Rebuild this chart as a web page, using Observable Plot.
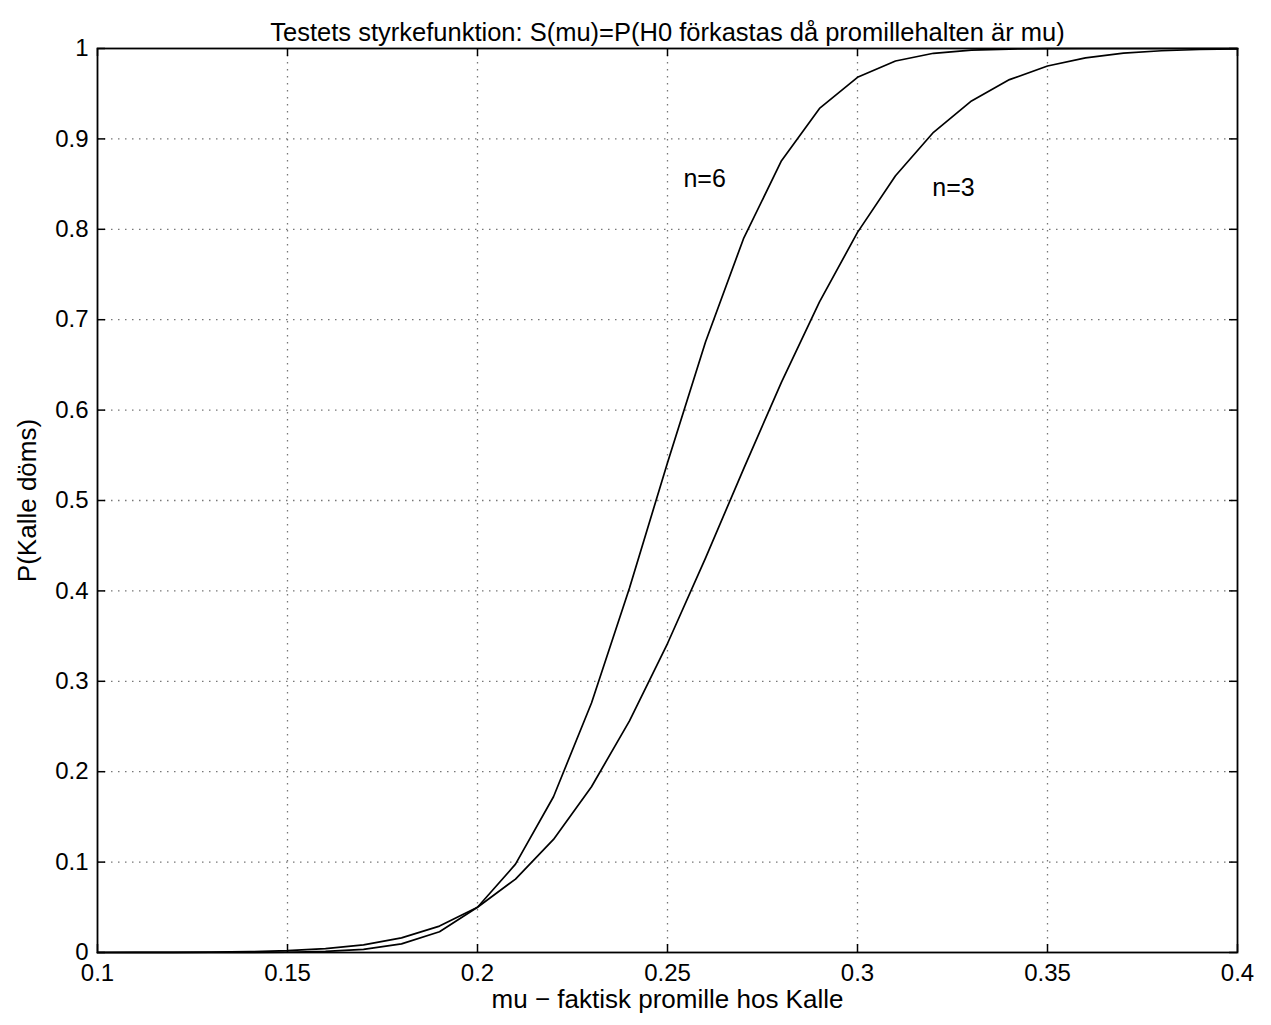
<!DOCTYPE html>
<html><head><meta charset="utf-8">
<script src="https://cdn.jsdelivr.net/npm/d3@7"></script>
<script src="https://cdn.jsdelivr.net/npm/@observablehq/plot@0.6"></script>
<style>body{margin:0;background:#fff}</style>
</head><body><div id="chart"></div>
<script>
const title = "Testets styrkefunktion: S(mu)=P(H0 förkastas då promillehalten är mu)";
const xLabel = "mu \u2212 faktisk promille hos Kalle";
const yLabel = "P(Kalle döms)";

const mu = [0.10,0.11,0.12,0.13,0.14,0.15,0.16,0.17,0.18,0.19,0.20,0.21,0.22,0.23,0.24,0.25,0.26,0.27,0.28,0.29,0.30,0.31,0.32,0.33,0.34,0.35,0.36,0.37,0.38,0.39,0.40];
const sN3 = [0.0000,0.0001,0.0001,0.0004,0.0009,0.0020,0.0042,0.0085,0.0162,0.0292,0.0500,0.0812,0.1251,0.1834,0.2562,0.3418,0.4363,0.5347,0.6310,0.7197,0.7966,0.8592,0.9073,0.9420,0.9656,0.9806,0.9897,0.9948,0.9975,0.9989,0.9995];
const sN6 = [0.0000,0.0000,0.0000,0.0000,0.0001,0.0003,0.0012,0.0035,0.0095,0.0230,0.0500,0.0977,0.1723,0.2760,0.4032,0.5418,0.6754,0.7896,0.8759,0.9337,0.9681,0.9862,0.9947,0.9982,0.9994,0.9998,1.0000,1.0000,1.0000,1.0000,1.0000];

const xTicks = [0.1,0.15,0.2,0.25,0.3,0.35,0.4];
const yTicks = [0,0.1,0.2,0.3,0.4,0.5,0.6,0.7,0.8,0.9,1];
const curveLabels = [{text:"n=6", x:0.2542, y:0.856},{text:"n=3", x:0.3197, y:0.846}];

const rows = mu.flatMap((m,i)=>[{mu:m,p:sN3[i],n:"n=3"},{mu:m,p:sN6[i],n:"n=6"}]);

const W = 1271, H = 1025;
const mT = 48, mL = 97, mR = 34, mB = 73;
const fw = W - mL - mR, fh = H - mT - mB;
const tick = 8;
const font = "'Liberation Sans', Arial, sans-serif";

const chart = Plot.plot({
  width: W, height: H,
  marginTop: mT, marginLeft: mL, marginRight: mR, marginBottom: mB,
  style: {fontSize: "24px", fontFamily: font, background: "#fff", color: "#000", overflow: "visible"},
  x: {domain: [0.1, 0.4]},
  y: {domain: [0, 1]},
  marks: [
    Plot.gridX(xTicks.slice(1, -1), {stroke: "#777", strokeOpacity: 1, strokeWidth: 1.3, strokeDasharray: "1.5,5.5"}),
    Plot.gridY(yTicks.slice(1, -1), {stroke: "#777", strokeOpacity: 1, strokeWidth: 1.3, strokeDasharray: "1.5,5.5"}),
    Plot.ruleX(xTicks, {stroke: "#000", strokeWidth: 1.5, insetTop: fh - tick}),
    Plot.ruleX(xTicks, {stroke: "#000", strokeWidth: 1.5, insetBottom: fh - tick}),
    Plot.ruleY(yTicks, {stroke: "#000", strokeWidth: 1.5, insetRight: fw - tick}),
    Plot.ruleY(yTicks, {stroke: "#000", strokeWidth: 1.5, insetLeft: fw - tick}),
    Plot.frame({stroke: "#000", strokeWidth: 1.8}),
    Plot.axisX(xTicks, {tickSize: 0, tickPadding: 11, tickFormat: d => String(d), fontSize: 24, label: null}),
    Plot.axisY(yTicks, {tickSize: 0, tickPadding: 9, tickFormat: d => String(d), fontSize: 24, label: null}),
    Plot.line(rows, {x: "mu", y: "p", z: "n", stroke: "#000", strokeWidth: 1.7}),
    Plot.text(curveLabels, {x: "x", y: "y", text: "text", textAnchor: "start", fontSize: 25}),
    Plot.text([title], {frameAnchor: "top", textAnchor: "middle", dy: -26, fontSize: 25.5}),
    Plot.text([xLabel], {frameAnchor: "bottom", textAnchor: "middle", dy: 55, fontSize: 26}),
    Plot.text([yLabel], {frameAnchor: "left", textAnchor: "middle", dx: -70, rotate: -90, fontSize: 26})
  ]
});
document.getElementById("chart").appendChild(chart);
</script>
</body></html>
